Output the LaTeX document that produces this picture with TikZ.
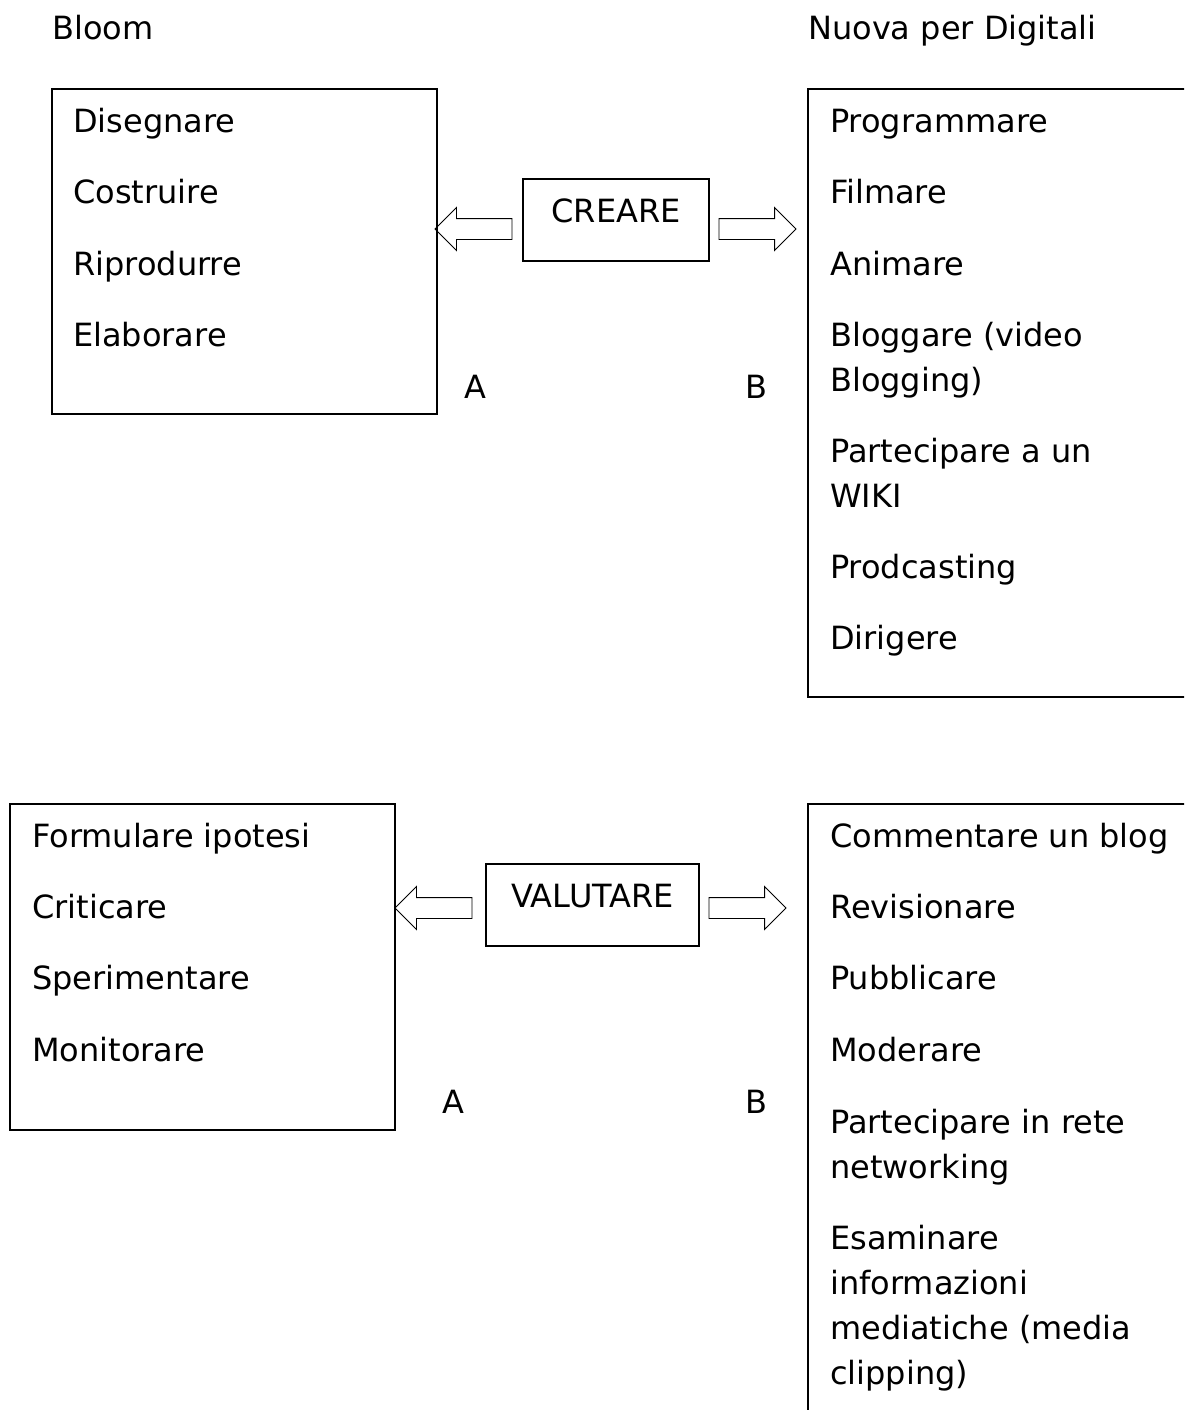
\documentclass[tikz,border=0pt]{standalone}
\usepackage{fontspec}
\setmainfont{DejaVu Sans}
\usepackage{tikz}
\usetikzlibrary{arrows.meta,positioning,calc,shapes.arrows}

\newcommand{\lines}[1]{\begin{tabular}[t]{@{}l@{}}#1\end{tabular}}

\tikzset{
  listbox/.style={draw, line width=1.1pt, rectangle, inner sep=0pt},
  verbbox/.style={draw, line width=1.1pt, rectangle, inner sep=0pt,
    minimum height=82pt, text height=23pt, text depth=19pt},
  item/.style={anchor=base west, inner sep=0pt},
  blockarrow/.style={draw, line width=0.9pt, single arrow, single arrow head extend=11pt,
    inner sep=10pt, minimum width=42pt, minimum height=77pt}
}

\begin{document}
\begin{tikzpicture}[x=1pt, y=-1pt, font=\fontsize{32}{45}\selectfont]
    \useasboundingbox (0,0) rectangle (1184,1410);
    \clip (0,0) rectangle (1184,1410);
    % titles
    \node[item] (tbloom) at (52,40) {Bloom};
    \node[item] (tnuova) at (808,40) {Nuova per Digitali};

    % CREARE
    \node[listbox, minimum width=385pt, minimum height=325pt] (bloomA) at (244.5,251.5) {};
    \node[listbox, minimum width=400pt, minimum height=608pt] (digitA) at (1008,393) {};
    \node[verbbox, minimum width=186pt] (creare) at (616,220) {CREARE};
    \foreach \y/\lab in {132/Disegnare, 203/Costruire, 275/Riprodurre, 346/Elaborare} {
        \node[item] (ba-\y) at (73,\y) {\lab};
    }
    \foreach \y/\lab in {132/Programmare, 203/Filmare, 275/Animare,
        346/{\lines{Bloggare (video\\Blogging)}}, 462/{\lines{Partecipare a un\\WIKI}},
        578/Prodcasting, 649/Dirigere} {
        \node[item] (da-\y) at (830,\y) {\lab};
    }
    \node[blockarrow, shape border rotate=180, anchor=tail] (arrA) at ($(creare.west)+(-10,9)$) {};
    \node[blockarrow, anchor=tail] (arrB) at ($(creare.east)+(9,9)$) {};
    \node[anchor=base] (labA) at (475,398) {A};
    \node[anchor=base] (labB) at (756,398) {B};

    % VALUTARE
    \node[listbox, minimum width=385pt, minimum height=326pt] (bloomB) at (202.5,967) {};
    \node[listbox, minimum width=400pt, minimum height=640pt] (digitB) at (1008,1124) {};
    \node[verbbox, minimum width=213pt] (valutare) at (592.5,905) {VALUTARE};
    \foreach \y/\lab in {847/Formulare ipotesi, 918/Criticare, 989/Sperimentare, 1061/Monitorare} {
        \node[item] (bb-\y) at (32,\y) {\lab};
    }
    \foreach \y/\lab in {847/Commentare un blog, 918/Revisionare, 989/Pubblicare, 1061/Moderare,
        1133/{\lines{Partecipare in rete\\networking}},
        1249/{\lines{Esaminare\\informazioni\\mediatiche (media\\clipping)}}} {
        \node[item] (db-\y) at (830,\y) {\lab};
    }
    \node[blockarrow, shape border rotate=180, anchor=tail] (arrC) at ($(valutare.west)+(-13,3)$) {};
    \node[blockarrow, anchor=tail] (arrD) at ($(valutare.east)+(9,3)$) {};
    \node[anchor=base] (labC) at (453,1113) {A};
    \node[anchor=base] (labD) at (756,1113) {B};
\end{tikzpicture}
\end{document}
